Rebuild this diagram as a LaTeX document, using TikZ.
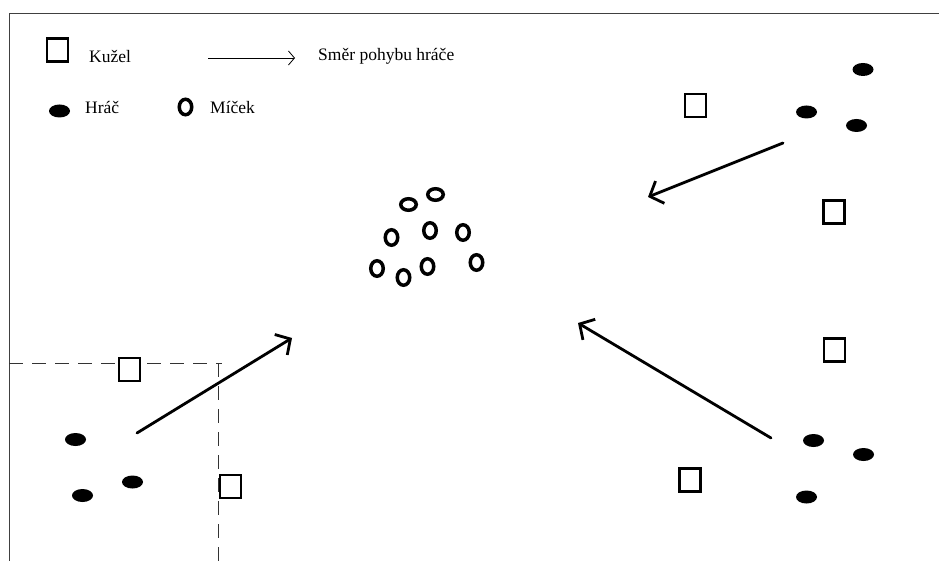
\documentclass[tikz,border=0pt]{standalone}
\usepackage{fontspec}
\setmainfont{Liberation Serif}
\usetikzlibrary{shapes.geometric,arrows.meta}
\begin{document}
\begin{tikzpicture}[x=1pt,y=-1pt,
 cone/.style={draw, fill=white, line width=2.2pt, minimum width=21pt, minimum height=23pt, inner sep=0pt},
 player/.style={ellipse, fill=black, minimum width=21pt, minimum height=13pt, inner sep=0pt},
 ballv/.style={ellipse, draw, line width=3.5pt, minimum width=12.5pt, minimum height=15.5pt, inner sep=0pt},
 ballh/.style={ellipse, draw, line width=3.5pt, minimum width=15.5pt, minimum height=11.5pt, inner sep=0pt},
 move/.style={line width=2.8pt, line cap=round, -{Straight Barb[length=11pt,width=24pt,line width=2.8pt]}},
 lbl/.style={font=\fontsize{17.5}{20}\selectfont, anchor=base west, inner sep=0pt},
 guide/.style={line width=0.8pt, dash pattern=on 14pt off 9pt, black!80},
 frame/.style={line width=1pt, black!75}
]
\useasboundingbox (0,0) rectangle (939,561);
% frame
\coordinate (fa) at (939,14);
\coordinate (fb) at (9,14);
\coordinate (fc) at (9,561);
\draw[frame] (fa) -- (fb) -- (fc);

% guide lines bottom-left (drawn first, cones cover them)
\coordinate (g1) at (9,363);
\coordinate (g2) at (222,363);
\coordinate (g3) at (218,363);
\coordinate (g4) at (218,561);
\draw[guide] (g1) -- (g2);
\draw[guide] (g3) -- (g4);

% legend
\node[cone] (lk) at (57.5,50) {};
\node[lbl] (tk) at (89,63) {Kužel};
\coordinate (la1) at (208,58);
\coordinate (la2) at (295,58);
\draw[line width=0.8pt, -{Straight Barb[length=6pt,width=14pt,line width=0.8pt]}] (la1) -- (la2);
\node[lbl] (ts) at (318,61) {Směr pohybu hráče};
\node[player] (lp) at (59.5,111) {};
\node[lbl] (th) at (85,114) {Hráč};
\node[ballv] (lb) at (185.5,107) {};
\node[lbl] (tm) at (210,114) {Míček};

% balls
\node[ballh] (b1) at (408.5,204.5) {};
\node[ballh] (b2) at (435.5,194.5) {};
\node[ballv] (b3) at (430,230.5) {};
\node[ballv] (b4) at (463,232.5) {};
\node[ballv] (b5) at (391.5,237.5) {};
\node[ballv] (b6) at (377,268.5) {};
\node[ballv] (b7) at (403.5,277.5) {};
\node[ballv] (b8) at (427.5,266.5) {};
\node[ballv] (b9) at (476.5,262.5) {};

% bottom-left group
\node[cone] (c1) at (129.5,369.5) {};
\node[cone] (c2) at (230.5,486.5) {};
\node[player] (p1) at (75.5,439.5) {};
\node[player] (p2) at (82.5,495.5) {};
\node[player] (p3) at (132.5,482) {};
\coordinate (a1s) at (137,433);
\coordinate (a1e) at (292,338);
\draw[move] (a1s) -- (a1e);

% top-right group
\node[cone] (c3) at (695.5,105.5) {};
\node[cone] (c4) at (834,212) {};
\node[player] (p4) at (863,69.5) {};
\node[player] (p5) at (806.5,112) {};
\node[player] (p6) at (856.5,125.5) {};
\coordinate (a2s) at (783,143);
\coordinate (a2e) at (648,197);
\draw[move] (a2s) -- (a2e);

% bottom-right group
\node[cone] (c5) at (834.5,350) {};
\node[cone] (c6) at (690,480) {};
\node[player] (p7) at (813.5,440.5) {};
\node[player] (p8) at (863.5,454.5) {};
\node[player] (p9) at (806.5,497) {};
\coordinate (a3s) at (771,438);
\coordinate (a3e) at (578,323);
\draw[move] (a3s) -- (a3e);
\end{tikzpicture}
\end{document}
